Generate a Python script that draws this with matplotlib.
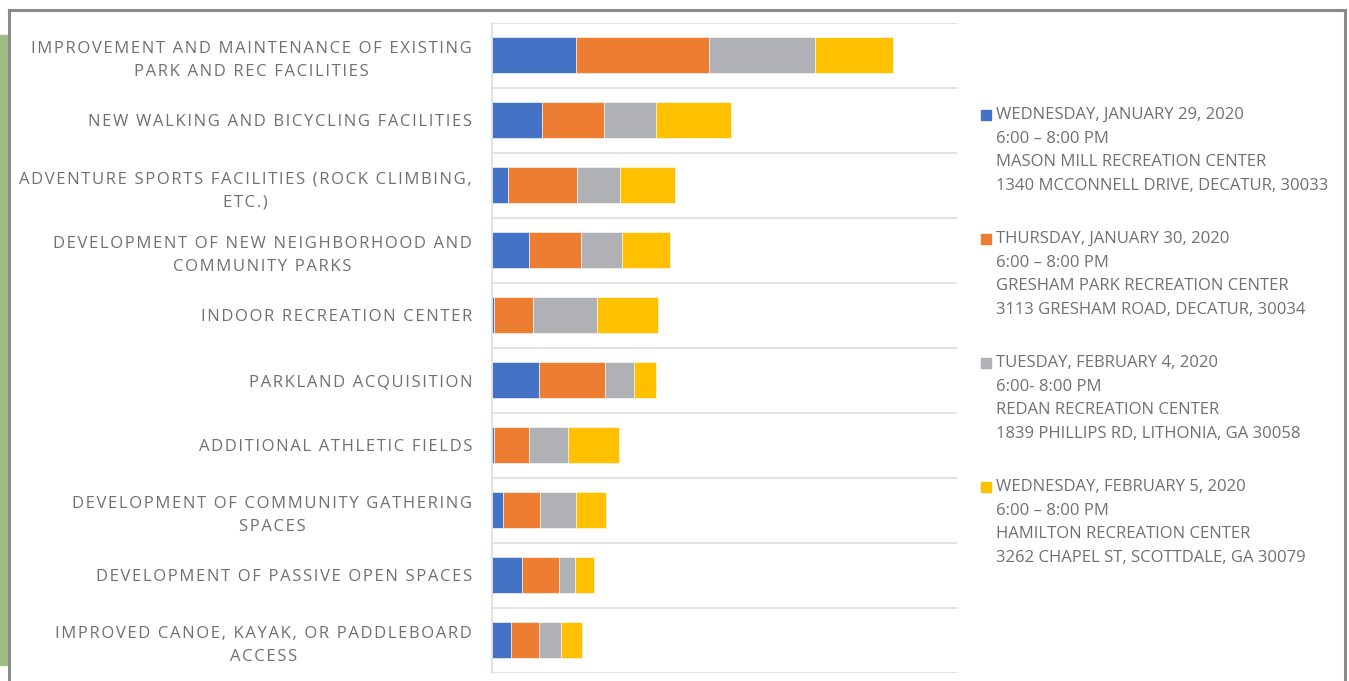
import numpy as np
import matplotlib.pyplot as plt
from matplotlib.patches import Rectangle
from matplotlib.lines import Line2D

categories = [
    "IMPROVEMENT AND MAINTENANCE OF EXISTING\nPARK AND REC FACILITIES",
    "NEW WALKING AND BICYCLING FACILITIES",
    "ADVENTURE SPORTS FACILITIES (ROCK CLIMBING,\nETC.)",
    "DEVELOPMENT OF NEW NEIGHBORHOOD AND\nCOMMUNITY PARKS",
    "INDOOR RECREATION CENTER",
    "PARKLAND ACQUISITION",
    "ADDITIONAL ATHLETIC FIELDS",
    "DEVELOPMENT OF COMMUNITY GATHERING\nSPACES",
    "DEVELOPMENT OF PASSIVE OPEN SPACES",
    "IMPROVED CANOE, KAYAK, OR PADDLEBOARD\nACCESS",
]

# votes per meeting
mason_mill = [29.0, 17.3, 5.8, 12.9, 0.9, 16.3, 1.0, 4.1, 10.5, 6.7]
gresham_park = [45.8, 21.4, 23.6, 17.9, 13.4, 22.7, 11.9, 12.6, 12.7, 9.6]
redan = [36.5, 18.0, 14.8, 14.0, 22.0, 10.0, 13.3, 12.5, 5.6, 7.7]
hamilton = [26.7, 25.6, 18.9, 16.4, 21.1, 7.7, 17.6, 10.3, 6.4, 7.0]

series = [mason_mill, gresham_park, redan, hamilton]
colors = ["#4472c4", "#ed7d31", "#b0b1b4", "#ffc000"]
legend_lines = [
    ["WEDNESDAY, JANUARY 29, 2020", "6:00 \u2013 8:00 PM",
     "MASON MILL RECREATION CENTER", "1340 MCCONNELL DRIVE, DECATUR, 30033"],
    ["THURSDAY, JANUARY 30, 2020", "6:00 \u2013 8:00 PM",
     "GRESHAM PARK RECREATION CENTER", "3113 GRESHAM ROAD, DECATUR, 30034"],
    ["TUESDAY, FEBRUARY 4, 2020", "6:00- 8:00 PM",
     "REDAN RECREATION CENTER", "1839 PHILLIPS RD, LITHONIA, GA 30058"],
    ["WEDNESDAY, FEBRUARY 5, 2020", "6:00 \u2013 8:00 PM",
     "HAMILTON RECREATION CENTER", "3262 CHAPEL ST, SCOTTDALE, GA 30079"],
]

plt.rcParams['font.family'] = ['Open Sans', 'DejaVu Sans']

W, H = 1349, 681


def spaced(s):
    # fake letter spacing with hair spaces
    return "\n".join("\u200a".join(line) for line in s.split("\n"))


fig = plt.figure(figsize=(W / 100, H / 100), dpi=100)
ax = fig.add_axes([491.5 / W, 1 - 672.7 / H, (957 - 491.5) / W, 650 / H])

y = np.arange(len(categories))
left = np.zeros(len(categories))
for vals, c in zip(series, colors):
    ax.barh(y, vals, left=left, height=0.55, color=c, edgecolor="white", linewidth=0.4, zorder=3)
    left += np.array(vals)

ax.set_xlim(0, 160)
ax.set_ylim(9.5, -0.5)
ax.set_yticks(y)
ax.set_yticklabels([spaced(c) for c in categories], fontsize=12.0, color="#707070",
                   multialignment="center", linespacing=1.6)
ax.set_yticks(np.arange(-0.5, len(categories), 1), minor=True)
ax.grid(which="minor", axis="y", color="#dedede", linewidth=1.2, zorder=0)
ax.tick_params(axis="y", which="both", length=0, pad=14)
ax.set_xticks([])
for s in ["top", "right", "bottom"]:
    ax.spines[s].set_visible(False)
ax.spines["left"].set_color("#dedede")
ax.spines["left"].set_linewidth(1.2)

# legend drawn by hand: colour square next to the first line of each entry
for i, (lines, c) in enumerate(zip(legend_lines, colors)):
    y0 = 115 + 124 * i
    fig.add_artist(Rectangle((981 / W, 1 - (y0 + 5) / H), 10 / W, 10 / H,
                             transform=fig.transFigure, color=c))
    for j, txt in enumerate(lines):
        fig.text(996 / W, 1 - (y0 + 23.6 * j) / H, txt, fontsize=12.0,
                 color="#707070", ha="left", va="center")

# slide frame and green side strip
fig.add_artist(Rectangle((0, 1 - 665 / H), 8 / W, 630 / H, transform=fig.transFigure,
                         color="#9dbd82"))
frame = dict(transform=fig.transFigure, color="#8a8a8a", linewidth=2.2)
fig.add_artist(Line2D([9 / W, 1345 / W], [1 - 10 / H, 1 - 10 / H], **frame))
fig.add_artist(Line2D([9 / W, 9 / W], [0, 1 - 10 / H], **frame))
fig.add_artist(Line2D([1345 / W, 1345 / W], [0, 1 - 10 / H], **frame))

fig.savefig("out.png", dpi=100)
